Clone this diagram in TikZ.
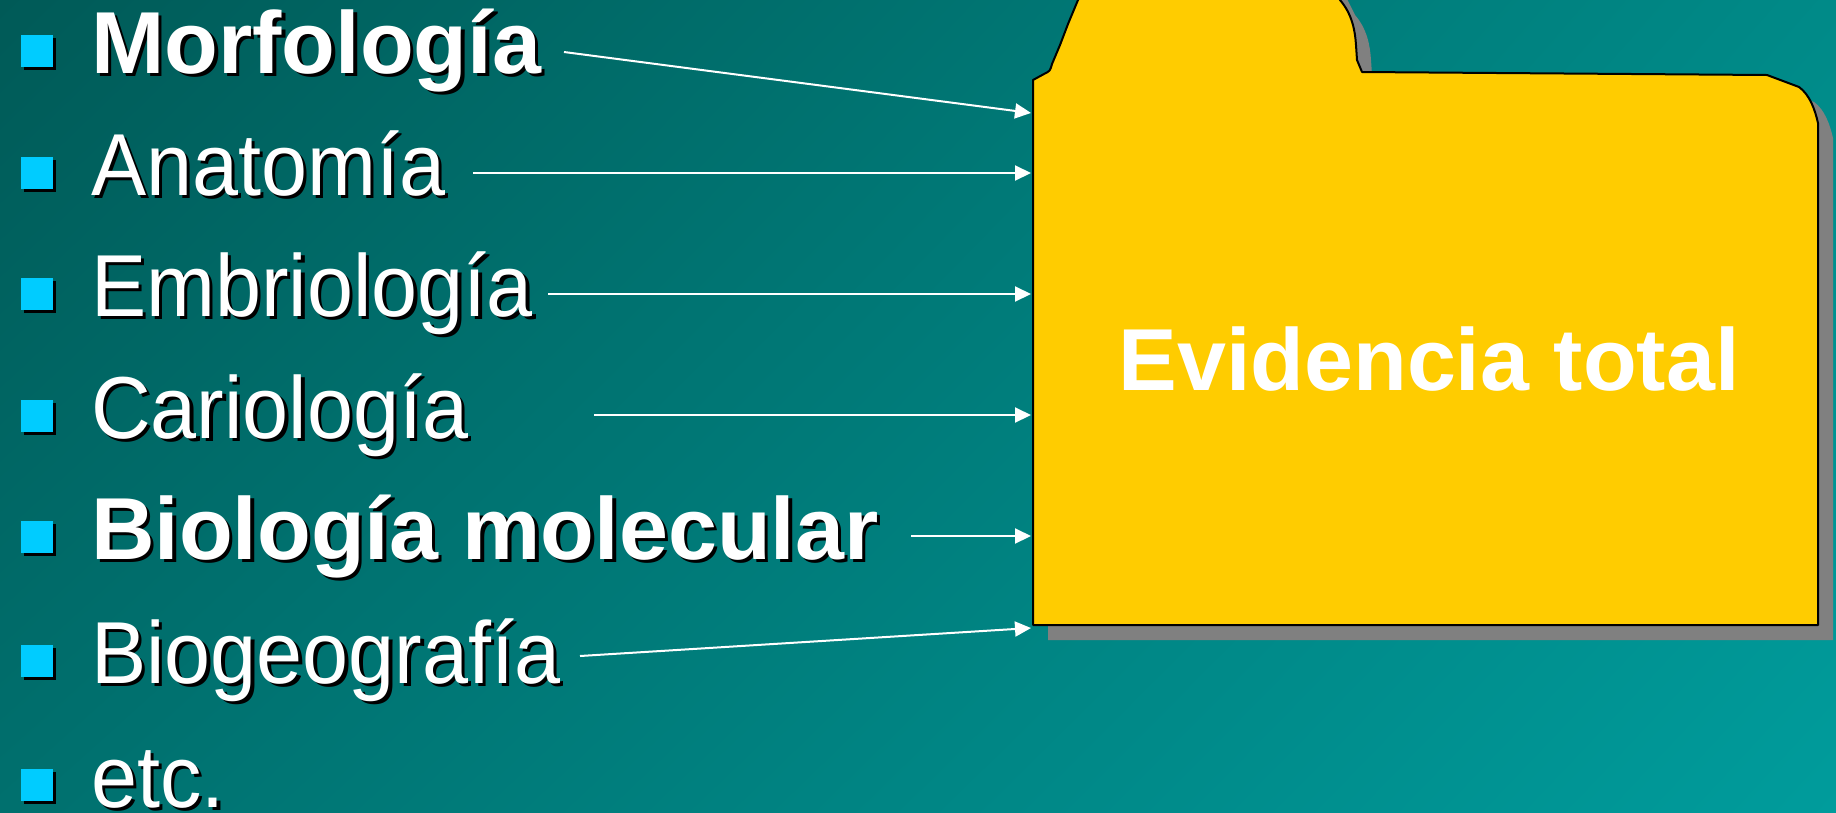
\documentclass[tikz,border=0pt]{standalone}
\usepackage{fontspec}
\setmainfont{Liberation Sans}
\newfontfamily\narrowfont[FakeStretch=0.94]{Liberation Sans}
\usetikzlibrary{arrows.meta,shadings}
\definecolor{bgUL}{HTML}{005A57}
\definecolor{bgUR}{HTML}{008A88}
\definecolor{bgLL}{HTML}{00706E}
\definecolor{bgLR}{HTML}{009C9C}
\definecolor{folderyellow}{HTML}{FFCC00}
\definecolor{foldershadow}{HTML}{808080}
\definecolor{bulletcyan}{HTML}{00CCFF}
\tikzset{
  itemtext/.style={anchor=base west, inner sep=0pt, text=white},
  itemshadow/.style={anchor=base west, inner sep=0pt, text=black},
  regtext/.style={font=\narrowfont\fontsize{88}{88}\selectfont},
  boldtext/.style={font=\fontsize{88}{88}\selectfont\bfseries},
  bulletbox/.style={fill=bulletcyan},
  bulletshadow/.style={fill=black},
  arrowline/.style={draw=white, line width=2pt, -{Triangle[length=16pt,width=15pt]}},
}
\begin{document}
\begin{tikzpicture}[x=1pt,y=-1pt]
\useasboundingbox (0,0) rectangle (1836,812);
\shade[upper left=bgUL, upper right=bgUR, lower left=bgLL, lower right=bgLR] (0,0) rectangle (1836,812);
\begin{scope}
\clip (0,0) rectangle (1836,812);
% folder shadow
\fill[foldershadow, shift={(15,15)}] (1033,625) -- (1033,80) -- (1044,74) .. controls (1050,71) .. (1052,64) -- (1060,45) -- (1068,24) -- (1078,0) -- (1088,-20) -- (1330,-20) -- (1340,0) .. controls (1352,14) and (1355,30) .. (1356,45) -- (1357,60) -- (1362,72) -- (1767,75) -- (1799,87) .. controls (1810,95) and (1815,110) .. (1818,123) -- (1818,625) -- cycle;
% folder
\draw[fill=folderyellow, draw=black, line width=2pt, line join=round] (1033,625) -- (1033,80) -- (1044,74) .. controls (1050,71) .. (1052,64) -- (1060,45) -- (1068,24) -- (1078,0) -- (1088,-20) -- (1330,-20) -- (1340,0) .. controls (1352,14) and (1355,30) .. (1356,45) -- (1357,60) -- (1362,72) -- (1767,75) -- (1799,87) .. controls (1810,95) and (1815,110) .. (1818,123) -- (1818,625) -- cycle;
\end{scope}
\node[anchor=base, inner sep=0pt, text=white, font=\fontsize{88}{88}\selectfont\bfseries] (ev) at (1429,390) {Evidencia total};

% bullets
\foreach \c [count=\i] in {51,173,294,416,537,661,785}{
  \fill[bulletshadow] (24,\c-13) rectangle (56,\c+19);
  \fill[bulletbox] (21,\c-16) rectangle (53,\c+16);
}
% item texts (shadow then text)
\node[itemshadow, boldtext] (s1) at (94.5,76.5) {Morfología};
\node[itemtext, boldtext] (t1) at (91,73) {Morfología};
\node[itemshadow, regtext] (s2) at (94.5,198.5) {Anatomía};
\node[itemtext, regtext] (t2) at (91,195) {Anatomía};
\node[itemshadow, regtext] (s3) at (94.5,319.5) {Embriología};
\node[itemtext, regtext] (t3) at (91,316) {Embriología};
\node[itemshadow, regtext] (s4) at (94.5,441.5) {Cariología};
\node[itemtext, regtext] (t4) at (91,438) {Cariología};
\node[itemshadow, boldtext] (s5) at (94.5,562.5) {Biología molecular};
\node[itemtext, boldtext] (t5) at (91,559) {Biología molecular};
\node[itemshadow, regtext] (s6) at (94.5,686.5) {Biogeografía};
\node[itemtext, regtext] (t6) at (91,683) {Biogeografía};
\node[itemshadow, regtext] (s7) at (94.5,810.5) {etc.};
\node[itemtext, regtext] (t7) at (91,807) {etc.};

% arrow endpoints
\coordinate (a1) at (564,52);  \coordinate (f1) at (1031,113);
\coordinate (a2) at (473,173); \coordinate (f2) at (1031,173);
\coordinate (a3) at (548,294); \coordinate (f3) at (1031,294);
\coordinate (a4) at (594,415); \coordinate (f4) at (1031,415);
\coordinate (a5) at (911,536); \coordinate (f5) at (1031,536);
\coordinate (a6) at (580,656); \coordinate (f6) at (1031,628);
\foreach \k in {1,...,6}{ \draw[arrowline] (a\k) -- (f\k); }
\end{tikzpicture}
\end{document}
